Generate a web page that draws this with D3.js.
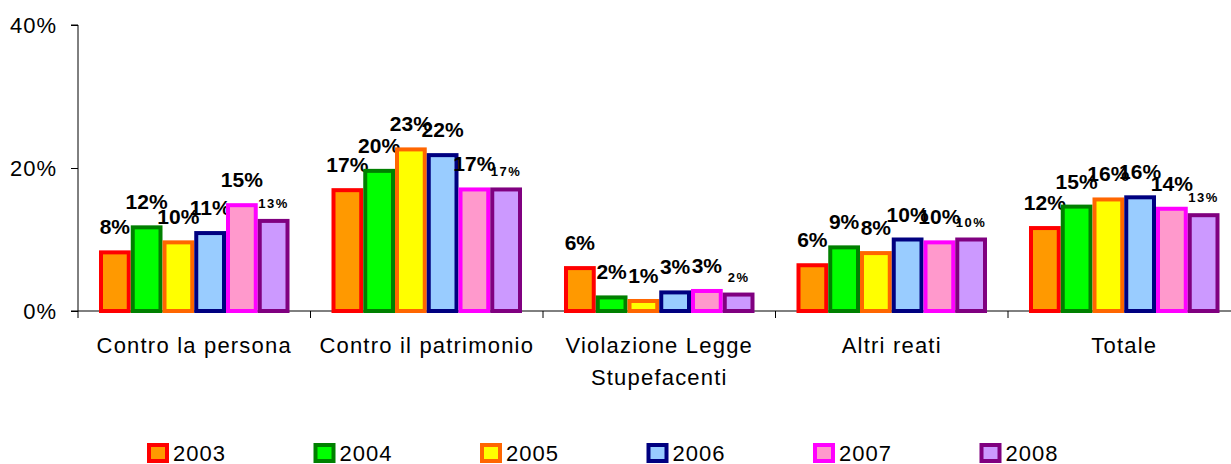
<!DOCTYPE html>
<html>
<head>
    <meta charset="utf-8" />
    <title></title>
    <style>
        body { margin: 0; background: #fff; }
        text { font-family: "Liberation Sans", Arial, sans-serif; fill: #000; }
        .axis path, .axis line { stroke: #000; stroke-width: 1px; }
    </style>
</head>
<body>
    <script src="https://d3js.org/d3.v7.min.js"></script>
    <script>
      var categories = ["Contro la persona", "Contro il patrimonio", "Violazione Legge Stupefacenti", "Altri reati", "Totale"];
      var years = ["2003", "2004", "2005", "2006", "2007", "2008"];
      var yTicks = [0, 20, 40];

      // one array per year, in category order
      var v2003 = [8.2, 16.9, 6.0, 6.4, 11.6];
      var v2004 = [11.7, 19.6, 1.9, 8.9, 14.6];
      var v2005 = [9.6, 22.6, 1.4, 8.1, 15.6];
      var v2006 = [10.9, 21.8, 2.6, 10.0, 15.9];
      var v2007 = [14.8, 17.0, 2.8, 9.6, 14.3];
      var v2008 = [12.6, 17.0, 2.3, 10.0, 13.4];
      var values = [v2003, v2004, v2005, v2006, v2007, v2008];

      var fills = ["#FF9900", "#00FF00", "#FFFF00", "#99CCFF", "#FF99CC", "#CC99FF"];
      var strokes = ["#FF0000", "#008000", "#FF6600", "#000080", "#FF00FF", "#800080"];

      var width = 1231, height = 464;
      var svg = d3.select("body").append("svg")
        .attr("width", width)
        .attr("height", height);

      var x0 = d3.scaleBand().domain(categories).range([78, 78 + 5 * 232.5]);
      var x1 = d3.scaleBand().domain(years).range([21, 232.5 - 21]);
      var y = d3.scaleLinear().domain([0, 40]).range([311, 25]);

      // y axis
      svg.append("g")
        .attr("class", "axis")
        .attr("transform", "translate(78,0)")
        .call(d3.axisLeft(y).tickValues(yTicks).tickSize(7).tickPadding(14)
          .tickFormat(function(d) { return d + "%"; }))
        .call(function(g) {
          g.select(".domain").attr("d", "M-7,25H0V311");
          g.selectAll("text").attr("font-size", 22).attr("letter-spacing", 1).attr("font-family", null);
        });

      // x axis line + category ticks
      var xa = svg.append("g").attr("class", "axis");
      xa.append("line").attr("x1", 71).attr("x2", width).attr("y1", 311).attr("y2", 311);
      xa.selectAll(".ct").data(d3.range(categories.length + 1)).enter().append("line")
        .attr("x1", function(i) { return 78 + i * x0.bandwidth(); })
        .attr("x2", function(i) { return 78 + i * x0.bandwidth(); })
        .attr("y1", 311).attr("y2", 318);

      var catLabels = svg.append("g").selectAll("text").data(categories).enter().append("text")
        .attr("text-anchor", "middle")
        .attr("font-size", 22)
        .attr("letter-spacing", 1.2)
        .attr("x", function(d) { return x0(d) + x0.bandwidth() / 2; })
        .attr("y", 353);
      catLabels.each(function(d) {
        var t = d3.select(this);
        var lines = d === "Violazione Legge Stupefacenti" ? ["Violazione Legge", "Stupefacenti"] : [d];
        lines.forEach(function(l, i) {
          t.append("tspan").attr("x", x0(d) + x0.bandwidth() / 2).attr("dy", i ? 32 : 0).text(l);
        });
      });

      // bars
      var groups = svg.append("g").selectAll("g").data(years).enter().append("g");
      groups.each(function(yr, s) {
        d3.select(this).selectAll("rect").data(values[s]).enter().append("rect")
          .attr("x", function(d, i) { return x0(categories[i]) + x1(yr) + 2; })
          .attr("width", x1.bandwidth() - 4)
          .attr("y", function(d) { return y(d); })
          .attr("height", function(d) { return y(0) - y(d); })
          .attr("fill", fills[s])
          .attr("stroke", strokes[s])
          .attr("stroke-width", 4);
      });

      // value labels
      var fmt = d3.format(".0f");
      groups.each(function(yr, s) {
        var small = s === 5;
        d3.select(this).selectAll("text").data(values[s]).enter().append("text")
          .attr("text-anchor", "middle")
          .attr("font-weight", "bold")
          .attr("font-size", small ? 13 : 21)
          .attr("letter-spacing", small ? 1.5 : 0)
          .attr("x", function(d, i) { return x0(categories[i]) + x1(yr) + x1.bandwidth() / 2; })
          .attr("y", function(d) { return y(d) - (small ? 13 : 18); })
          .text(function(d) { return fmt(d) + "%"; });
      });

      // legend
      var legend = svg.append("g").selectAll("g").data(years).enter().append("g")
        .attr("transform", function(d, i) { return "translate(" + (149 + i * 166.5) + ",445)"; });
      legend.append("rect")
        .attr("width", 18).attr("height", 16)
        .attr("fill", function(d, i) { return fills[i]; })
        .attr("stroke", function(d, i) { return strokes[i]; })
        .attr("stroke-width", 4);
      legend.append("text")
        .attr("x", 24).attr("y", 16)
        .attr("font-size", 22)
        .attr("letter-spacing", 1)
        .text(function(d) { return d; });
    </script>
</body>
</html>
